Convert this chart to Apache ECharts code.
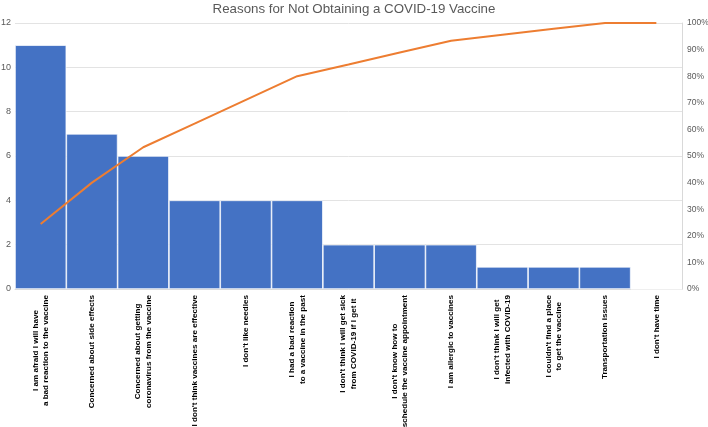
<!DOCTYPE html>
<html><head><meta charset="utf-8">
<script src="https://cdn.jsdelivr.net/npm/echarts@6/dist/echarts.min.js"></script>
<style>html,body{margin:0;padding:0;background:#fff}#c{width:708px;height:427px}</style>
</head><body><div id="c"></div>
<script>
const title = 'Reasons for Not Obtaining a COVID-19 Vaccine';
const categories = [
  'I am afraid I will have\na bad reaction to the vaccine',
  'Concerned about side effects',
  'Concerned about getting\ncoronavirus from the vaccine',
  "I don't think vaccines are effective",
  "I don't like needles",
  'I had a bad reaction\nto a vaccine in the past',
  "I don't think I will get sick\nfrom COVID-19 if I get it",
  "I don't know how to\nschedule the vaccine appointment",
  'I am allergic to vaccines',
  "I don't think I will get\ninfected with COVID-19",
  "I couldn't find a place\nto get the vaccine",
  'Transportation issues',
  "I don't have time"
];
const counts = [11, 7, 6, 4, 4, 4, 2, 2, 2, 1, 1, 1, 0];
const cumulativePct = [24.4, 40.0, 53.3, 62.2, 71.1, 80.0, 84.4, 88.9, 93.3, 95.6, 97.8, 100, 100];

const chart = echarts.init(document.getElementById('c'));
const font = 'Liberation Sans, Arial, sans-serif';
chart.setOption({
  animation: false,
  title: {text: title, left: 'center', top: -2,
    textStyle: {fontFamily: font, fontSize: 13.3, fontWeight: 'normal', color: '#595959'}},
  grid: {left: 15, right: 26, top: 23, bottom: 138, containLabel: false, outerBoundsMode: 'none'},
  xAxis: {
    type: 'category', data: categories,
    axisLine: {lineStyle: {color: '#d9d9d9'}},
    axisTick: {show: false},
    axisLabel: {
      interval: 0, rotate: 90, margin: 6,
      formatter: v => v.split('\n').map(s => '{a|' + s + '}').join('\n'),
      rich: {a: {align: 'center', fontFamily: font, fontSize: 8.1, fontWeight: 'bold', color: '#000', lineHeight: 10.7}}
    }
  },
  yAxis: [
    {type: 'value', min: 0, max: 12, interval: 2,
      axisLine: {show: false}, axisTick: {show: false},
      axisLabel: {margin: 4, fontFamily: font, fontSize: 9, color: '#595959'},
      splitLine: {lineStyle: {color: '#e3e3e3'}}},
    {type: 'value', min: 0, max: 100, interval: 10, position: 'right',
      axisLine: {show: true, lineStyle: {color: '#d9d9d9'}}, axisTick: {show: false},
      axisLabel: {margin: 5, fontFamily: font, fontSize: 8.5, color: '#595959', formatter: '{value}%'},
      splitLine: {show: false}}
  ],
  series: [
    {type: 'bar', data: counts, barCategoryGap: 0, yAxisIndex: 0,
      itemStyle: {color: '#4472C4', borderColor: '#ffffff', borderWidth: 0.7}},
    {type: 'line', data: cumulativePct, yAxisIndex: 1, symbol: 'none',
      lineStyle: {color: '#ED7D31', width: 2}}
  ]
});
</script></body></html>
